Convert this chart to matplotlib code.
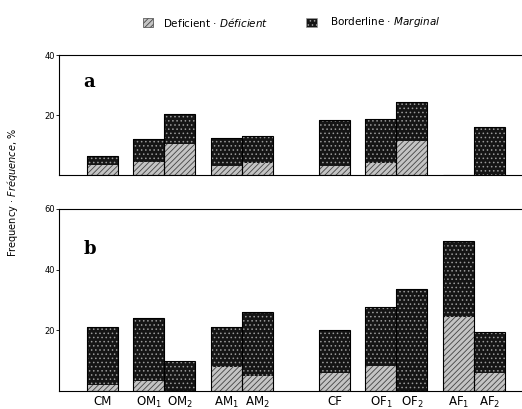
import numpy as np
import matplotlib.pyplot as plt

# categories and positions (groups separated by gaps)
labels = ['CM', 'OM$_1$', 'OM$_2$', 'AM$_1$', 'AM$_2$',
          'CF', 'OF$_1$', 'OF$_2$', 'AF$_1$', 'AF$_2$']
pos = [0, 1.5, 2.5, 4, 5, 7.5, 9, 10, 11.5, 12.5]

# panel a: deficient and total (deficient + borderline), %
a_def = [3.3, 4.3, 10.3, 3.1, 4.0, 3.1, 4.1, 11.4, 0, 0]
a_tot = [6.4, 12.0, 20.3, 12.4, 13.1, 18.3, 18.7, 24.4, 0, 15.9]
# panel b
b_def = [2.0, 3.4, 0, 8.0, 4.9, 6.0, 8.3, 0, 24.5, 5.8]
b_tot = [21.0, 24.2, 9.9, 21.2, 25.9, 20.1, 27.8, 33.6, 49.6, 19.4]

plt.rcParams['hatch.linewidth'] = 0.6

fig = plt.figure(figsize=(5.22, 4.09), dpi=100)
ax1 = fig.add_axes([0.113, 0.572, 0.887, 0.293])
ax2 = fig.add_axes([0.113, 0.044, 0.887, 0.445])

def_style = dict(facecolor='#c4c4c4', hatch='//////', edgecolor='#444444')
bord_style = dict(facecolor='#151515', hatch='....', edgecolor='#9a9a9a')

def draw(ax, d, t, ymax, tag, ticks):
    d = np.array(d)
    t = np.array(t)
    bl = t - d
    ax.bar(pos, d, width=1.0, linewidth=0, **def_style)
    ax.bar(pos, bl, bottom=d, width=1.0, linewidth=0, **bord_style)
    ax.bar(pos, t, width=1.0, fill=False, edgecolor='black', linewidth=0.8)
    ax.set_xlim(-1.39, 13.55)
    ax.set_ylim(0, ymax)
    ax.set_yticks(ticks)
    ax.tick_params(axis='y', labelsize=6, length=2, width=0.6, pad=1)
    ax.spines['right'].set_visible(False)
    for s in ['top', 'left', 'bottom']:
        ax.spines[s].set_linewidth(0.8)
    ax.text(-0.6, ymax * 0.78, tag, fontsize=13, fontweight='bold',
            family='DejaVu Serif', va='center')

draw(ax1, a_def, a_tot, 40, 'a', [20, 40])
ax1.set_xticks([])
draw(ax2, b_def, b_tot, 60, 'b', [20, 40, 60])
ax2.set_xticks(pos)
ax2.set_xticklabels(labels, fontsize=8.5)
ax2.tick_params(axis='x', length=0, pad=3)

fig.text(0.023, 0.53, 'Frequency · $\\it{Fréquence}$, %', rotation=90,
         ha='center', va='center', fontsize=7)

# legend
p1 = plt.Rectangle((0.274, 0.935), 0.02, 0.022, transform=fig.transFigure,
                   lw=0.5, **def_style)
p2 = plt.Rectangle((0.587, 0.935), 0.02, 0.022, transform=fig.transFigure,
                   lw=0.5, **bord_style)
fig.patches.extend([p1, p2])
fig.text(0.312, 0.945, 'Deficient · $\\it{Déficient}$', fontsize=7.5, va='center')
fig.text(0.632, 0.945, 'Borderline · $\\it{Marginal}$', fontsize=7.5, va='center')

fig.savefig('out.png', dpi=100)
